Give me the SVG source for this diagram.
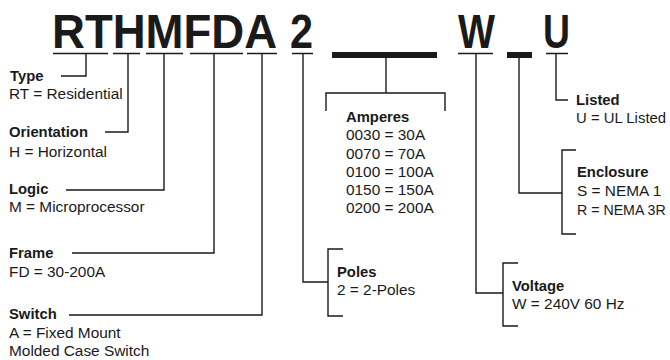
<svg xmlns="http://www.w3.org/2000/svg" width="670" height="360" viewBox="0 0 670 360">
<style>
text{font-family:"Liberation Sans",Arial,sans-serif;fill:#1a1a1a}
.big{font-size:49px;font-weight:bold}
.h{font-size:14.8px;font-weight:bold}
.t{font-size:15.4px}
.ln{fill:none;stroke:#1a1a1a;stroke-width:1.4}
.ul{stroke:#1a1a1a;stroke-width:1.5}
</style>
<rect width="670" height="360" fill="#fff"/>
<g id="code">
<text class="big" transform="translate(52,48) scale(0.93,1)" textLength="242" lengthAdjust="spacingAndGlyphs">RTHMFDA</text>
<text class="big" x="290" y="48" textLength="23" lengthAdjust="spacingAndGlyphs">2</text>
<text class="big" x="458" y="48" textLength="37" lengthAdjust="spacingAndGlyphs">W</text>
<text class="big" x="543" y="48" textLength="27" lengthAdjust="spacingAndGlyphs">U</text>
<line class="ul" x1="53" y1="53.5" x2="108" y2="53.5"/>
<line class="ul" x1="113" y1="53.5" x2="140" y2="53.5"/>
<line class="ul" x1="146" y1="53.5" x2="183" y2="53.5"/>
<line class="ul" x1="190" y1="53.5" x2="243" y2="53.5"/>
<line class="ul" x1="247" y1="53.5" x2="277" y2="53.5"/>
<line class="ul" x1="292" y1="53.5" x2="313" y2="53.5"/>
<line class="ul" x1="458" y1="53.5" x2="493" y2="53.5"/>
<line class="ul" x1="546" y1="53.5" x2="568" y2="53.5"/>
<rect x="332" y="52" width="105" height="6" fill="#1a1a1a"/>
<rect x="507" y="52" width="25" height="6" fill="#1a1a1a"/>
</g>
<g id="connectors">
<path class="ln" d="M86,54 V76 H61"/>
<path class="ln" d="M128,54 V132 H105"/>
<path class="ln" d="M164,54 V190 H66"/>
<path class="ln" d="M214,54 V253 H72"/>
<path class="ln" d="M262,54 V315 H69"/>
<path class="ln" d="M303,54 V282 H328"/>
<path class="ln" d="M343,249 H328 V316 H343"/>
<path class="ln" d="M386,58 V93"/>
<path class="ln" d="M326,111 V93 H445 V111"/>
<path class="ln" d="M476,54 V293 H503"/>
<path class="ln" d="M518,263 H503 V326 H518"/>
<path class="ln" d="M519,58 V193 H562"/>
<path class="ln" d="M576,150 H562 V234 H576"/>
<path class="ln" d="M556,54 V100 H568"/>
</g>
<g id="type"><text class="h" x="10" y="81">Type</text><text class="t" x="9" y="99">RT = Residential</text></g>
<g id="orientation"><text class="h" x="9" y="137">Orientation</text><text class="t" x="9" y="157">H = Horizontal</text></g>
<g id="logic"><text class="h" x="9" y="194">Logic</text><text class="t" x="9" y="212">M = Microprocessor</text></g>
<g id="frame"><text class="h" x="9" y="258">Frame</text><text class="t" x="9" y="277">FD = 30-200A</text></g>
<g id="switch"><text class="h" x="9" y="319">Switch</text><text class="t" x="9" y="338">A = Fixed Mount</text><text class="t" x="9" y="356">Molded Case Switch</text></g>
<g id="amperes"><text class="h" x="346" y="122">Amperes</text><text class="t" x="346" y="140">0030 = 30A</text><text class="t" x="346" y="158.5">0070 = 70A</text><text class="t" x="346" y="176.5">0100 = 100A</text><text class="t" x="346" y="195">0150 = 150A</text><text class="t" x="346" y="213">0200 = 200A</text></g>
<g id="poles"><text class="h" x="337" y="277">Poles</text><text class="t" x="337" y="295">2 = 2-Poles</text></g>
<g id="voltage"><text class="h" x="512" y="291">Voltage</text><text class="t" x="512" y="309">W = 240V 60 Hz</text></g>
<g id="enclosure"><text class="h" x="577" y="177">Enclosure</text><text class="t" x="577" y="196">S = NEMA 1</text><text class="t" x="577" y="215" style="font-size:14.2px">R = NEMA 3R</text></g>
<g id="listed"><text class="h" x="576" y="105">Listed</text><text class="t" x="576" y="123" style="font-size:14.9px">U = UL Listed</text></g>
</svg>
